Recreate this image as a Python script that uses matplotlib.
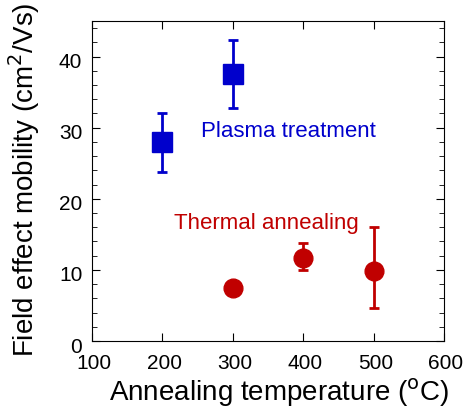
import matplotlib
matplotlib.use("Agg")
import matplotlib.pyplot as plt
from matplotlib.ticker import MultipleLocator
from matplotlib.transforms import ScaledTranslation

plt.rcParams['font.family'] = ['Liberation Sans', 'DejaVu Sans']

plasma_x = [200, 300]
plasma_y = [28.0, 37.5]
plasma_lo = [23.8, 32.8]
plasma_hi = [32.1, 42.3]

thermal_x = [300, 400, 500]
thermal_y = [7.4, 11.7, 9.8]
thermal_lo = [7.4, 10.0, 4.6]
thermal_hi = [7.4, 13.8, 16.0]

blue = '#0000CC'
red = '#C00000'

fig = plt.figure(figsize=(4.67, 4.11), dpi=100)
ax = fig.add_axes([92/467, 1-341/411, (444-92)/467, (341-21)/411])

ax.errorbar(plasma_x, plasma_y,
            yerr=[[y - l for y, l in zip(plasma_y, plasma_lo)], [h - y for y, h in zip(plasma_y, plasma_hi)]],
            fmt='s', color=blue, ms=15, elinewidth=2, capsize=3.5, capthick=2)
ax.errorbar(thermal_x, thermal_y,
            yerr=[[y - l for y, l in zip(thermal_y, thermal_lo)], [h - y for y, h in zip(thermal_y, thermal_hi)]],
            fmt='o', color=red, ms=13.5, elinewidth=2, capsize=3.5, capthick=2)

ax.text(255, 29.5, 'Plasma treatment', color=blue, fontsize=16, va='center', ha='left')
ax.text(216.5, 16.5, 'Thermal annealing', color=red, fontsize=16, va='center', ha='left')

ax.set_xlim(100, 600)
ax.set_ylim(0, 45)
ax.xaxis.set_major_locator(MultipleLocator(100))
ax.yaxis.set_major_locator(MultipleLocator(10))
ax.yaxis.set_minor_locator(MultipleLocator(2))
ax.tick_params(which='both', direction='in', top=True, right=True, labelsize=15)
ax.tick_params(which='major', length=6)
ax.tick_params(which='minor', length=3.5)
ax.tick_params(axis='x', pad=9)
ax.tick_params(axis='y', pad=7)

offset = ScaledTranslation(0, -4/100, fig.dpi_scale_trans)
for lab in ax.get_yticklabels():
    lab.set_transform(lab.get_transform() + offset)
xoff = ScaledTranslation(2/100, 0, fig.dpi_scale_trans)
for lab in ax.get_xticklabels():
    lab.set_transform(lab.get_transform() + xoff)

ax.set_xlabel('Annealing temperature ($^{\\rm o}$C)', fontsize=20)
ax.set_ylabel('Field effect mobility (cm$^{2}$/Vs)', fontsize=20)
ax.xaxis.set_label_coords(0.531, -0.112)
ax.yaxis.set_label_coords(-0.1415, 0.503)

fig.savefig('out.png', dpi=100)
